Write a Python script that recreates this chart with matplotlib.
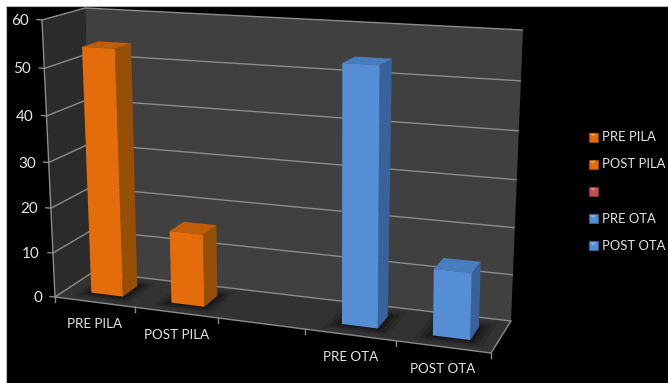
import matplotlib
matplotlib.use("Agg")
import matplotlib.pyplot as plt
import numpy as np
from matplotlib.patches import Polygon, Rectangle

plt.rcParams['font.family'] = ['Lato', 'DejaVu Sans']

# Chart data
categories = ["PRE PILA", "POST PILA", "", "PRE OTA", "POST OTA"]
values = [54, 16, None, 54, 14]
y_ticks = [0, 10, 20, 30, 40, 50, 60]
legend_labels = ["PRE PILA", "POST PILA", "", "PRE OTA", "POST OTA"]

ORANGE = ("#E46C0A", "#954F07", "#C25C08")
BLUE = ("#558ED5", "#38639A", "#4A7DBD")
bar_colors = [ORANGE, ORANGE, None, BLUE, BLUE]
legend_colors = ["#E46C0A", "#E46C0A", "#C0504D", "#558ED5", "#558ED5"]
legend_edges = ["#8F4A0C", "#8F4A0C", "#7F3431", "#35608F", "#35608F"]
legend_lights = ["#F59A45", "#F59A45", "#D98583", "#8DB6E8", "#8DB6E8"]

# Corners of the plot box on the canvas, keyed by (right, top, back)
CORNERS = {
    (0, 0, 0): (55, 297), (1, 0, 0): (491, 353),
    (0, 1, 0): (42, 20), (1, 1, 0): (496, 46),
    (0, 0, 1): (93, 272), (1, 0, 1): (511, 321),
    (0, 1, 1): (85, 8), (1, 1, 1): (523, 30),
}
N = len(categories)
VMAX = y_ticks[-1]
BAR_X = (0.32, 0.72)
BAR_D = (0.30, 0.70)


def persp(t, k):
    return t / (1 + k * (1 - t))


def project(x, v, d):
    """Map category position, value and depth to canvas coordinates."""
    u = persp(x / N, 0.112)
    w = persp(v / VMAX, 0.06)
    p = np.zeros(2)
    for (a, b, c), xy in CORNERS.items():
        p += (u if a else 1 - u) * (w if b else 1 - w) * (d if c else 1 - d) * np.array(xy)
    return p


fig = plt.figure(figsize=(6.68, 3.83), dpi=100, facecolor="white")
ax = fig.add_axes([0, 0, 1, 1])
ax.set_xlim(0, 668)
ax.set_ylim(383, 0)
ax.axis("off")

# Dark canvas inset from the top and left edges
ax.add_patch(Rectangle((6, 6), 670, 380, fc="black", ec="#BBBBBB", lw=0.8, zorder=0))


def face(pts, color, z=2, **kw):
    ax.add_patch(Polygon([project(*p) for p in pts], closed=True, fc=color,
                         ec=kw.pop("ec", "none"), zorder=z, **kw))


# Walls and floor
face([(0, 0, 1), (N, 0, 1), (N, VMAX, 1), (0, VMAX, 1)], "#404040", 1)
face([(0, 0, 0), (0, 0, 1), (0, VMAX, 1), (0, VMAX, 0)], "#2B2B2B", 1)
face([(0, 0, 0), (N, 0, 0), (N, 0, 1), (0, 0, 1)], "#323232", 1)

# Gridlines along the left and back walls
GRID = "#8C8C8C"
for t in y_ticks:
    pts = np.array([project(0, t, 0), project(0, t, 1), project(N, t, 1)])
    ax.plot(pts[:, 0], pts[:, 1], color=GRID, lw=1.0, zorder=1.5, solid_capstyle="butt")
    a = project(0, t, 0)
    ax.plot([a[0] - 5, a[0]], [a[1] - 0.5, a[1]], color=GRID, lw=1.0, zorder=1.5)
    ax.text(a[0] - 13, a[1] + 1, str(t), color="#E6E6E6", fontsize=11,
            ha="right", va="center", zorder=5)

# Value axis and front floor edges
pts = np.array([project(0, 0, 0), project(0, VMAX, 0)])
ax.plot(pts[:, 0], pts[:, 1], color=GRID, lw=1.0, zorder=1.6)
pts = np.array([project(0, 0, 0), project(N, 0, 0), project(N, 0, 1)])
ax.plot(pts[:, 0], pts[:, 1], color=GRID, lw=1.0, zorder=1.6)
for i in range(N + 1):
    a = project(i, 0, 0)
    ax.plot([a[0], a[0]], [a[1], a[1] + 5], color=GRID, lw=1.0, zorder=1.6)

# Bars with soft floor shadows
x0, x1 = BAR_X
d0, d1 = BAR_D
for i, (val, col) in enumerate(zip(values, bar_colors)):
    if val is None:
        continue
    for grow, alpha in [(0.16, 0.10), (0.11, 0.16), (0.06, 0.22), (0.02, 0.30)]:
        sx, sd = grow, grow * 1.1
        face([(i + x0 - sx, 0, d0 - sd), (i + x1 + sx, 0, d0 - sd),
              (i + x1 + sx, 0, d1 + sd), (i + x0 - sx, 0, d1 + sd)],
             "black", 2, alpha=alpha, lw=0)
    front, side, top = col
    face([(i + x1, 0, d0), (i + x1, 0, d1), (i + x1, val, d1), (i + x1, val, d0)], side, 3)
    face([(i + x0, val, d0), (i + x1, val, d0), (i + x1, val, d1), (i + x0, val, d1)], top, 3)
    face([(i + x0, 0, d0), (i + x1, 0, d0), (i + x1, val, d0), (i + x0, val, d0)], front, 4)

# Category labels under the floor's front edge
for i, name in enumerate(categories):
    if name:
        a = project(i + 0.5, 0, 0)
        ax.text(a[0], a[1] + 22, name, color="#E6E6E6", fontsize=9.6,
                ha="center", va="center", zorder=5)

# Legend swatches with a bevelled look, and their entries
for k, (name, c, e, l) in enumerate(zip(legend_labels, legend_colors, legend_edges, legend_lights)):
    y = 137 + k * 27.2
    ax.add_patch(Rectangle((588.5, y - 4.5), 9, 9, fc=c, ec=e, lw=0.8, zorder=5))
    ax.add_patch(Polygon([(590, y - 3.5), (596, y - 3.5), (593, y - 0.5)], closed=True,
                         fc=l, ec="none", zorder=6))
    ax.text(602, y, name, color="#E6E6E6", fontsize=9.4, ha="left", va="center", zorder=5)

fig.savefig("out.png", dpi=100, facecolor="white")
